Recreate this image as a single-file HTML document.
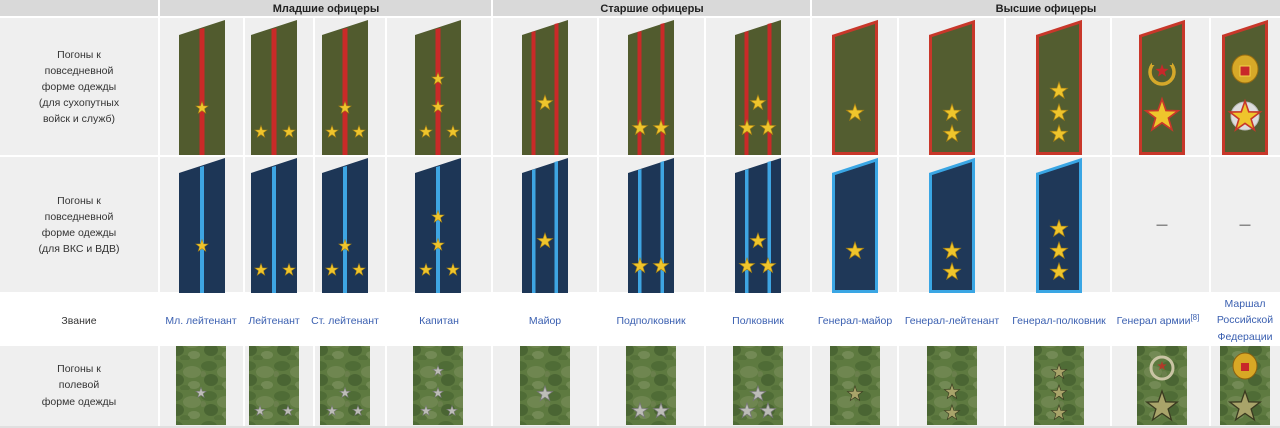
<!DOCTYPE html>
<html><head><meta charset="utf-8"><style>
html,body{margin:0;padding:0;background:#fff;}
svg{display:block;font-family:"Liberation Sans",Arial,sans-serif;}
</style></head><body>
<svg width="1280" height="428" viewBox="0 0 1280 428" xmlns="http://www.w3.org/2000/svg">
<defs>
<polygon id="st" points="0,-1 0.235,-0.324 0.951,-0.309 0.380,0.124 0.588,0.809 0,0.4 -0.588,0.809 -0.380,0.124 -0.951,-0.309 -0.235,-0.324"/>
<pattern id="camo" width="34" height="30" patternUnits="userSpaceOnUse">
<rect width="34" height="30" fill="#5e7a40"/>
<ellipse cx="8" cy="6" rx="8" ry="5" fill="#4f6c36"/>
<ellipse cx="25" cy="12" rx="9" ry="6" fill="#6f8650"/>
<ellipse cx="10" cy="20" rx="7" ry="6" fill="#4a6533"/>
<ellipse cx="27" cy="25" rx="6" ry="4" fill="#738a55"/>
<ellipse cx="2" cy="14" rx="3" ry="3" fill="#6a7f4c"/>
<ellipse cx="18" cy="28" rx="5" ry="3" fill="#55713a"/>
</pattern>
<g id="aJ"><polygon points="-23,35 23,20 23,155 -23,155" fill="#515b2e"/><polygon points="-2.5,29 2.5,28 2.5,155 -2.5,155" fill="#c92a28"/></g>
<g id="aS"><polygon points="-23,35 23,20 23,155 -23,155" fill="#515b2e"/><polygon points="-13.5,32 -9.5,31 -9.5,155 -13.5,155" fill="#c92a28"/><polygon points="9.5,24 13.5,23 13.5,155 9.5,155" fill="#c92a28"/></g>
<g id="aG"><polygon points="-21.5,36 21.5,22 21.5,153.5 -21.5,153.5" fill="#535d30" stroke="#c8372a" stroke-width="3"/></g>
<g id="bJ"><polygon points="-23,35 23,20 23,155 -23,155" fill="#1d3656"/><polygon points="-2,29 2,28 2,155 -2,155" fill="#3ea5e2"/></g>
<g id="bS"><polygon points="-23,35 23,20 23,155 -23,155" fill="#1d3656"/><polygon points="-13,32 -9.5,31 -9.5,155 -13,155" fill="#3ea5e2"/><polygon points="9.5,24 13,23 13,155 9.5,155" fill="#3ea5e2"/></g>
<g id="bG"><polygon points="-21.5,36 21.5,22 21.5,153.5 -21.5,153.5" fill="#1f3858" stroke="#3aa6e4" stroke-width="3"/></g>
<rect id="cm" x="-25" y="346" width="50" height="79" fill="url(#camo)"/>
</defs>
<rect x="0" y="0" width="1280" height="428" fill="#fff"/>
<rect x="0" y="0" width="158" height="16" fill="#d9d9d9"/>
<rect x="160" y="0" width="331" height="16" fill="#d9d9d9"/>
<rect x="493" y="0" width="317" height="16" fill="#d9d9d9"/>
<rect x="812" y="0" width="468" height="16" fill="#d9d9d9"/>
<g font-size="11" font-weight="bold" fill="#222" text-anchor="middle">
<text x="326" y="12">Младшие офицеры</text>
<text x="652" y="12">Старшие офицеры</text>
<text x="1046" y="12">Высшие офицеры</text>
</g>
<g fill="#efefef">
<rect x="0" y="18" width="158" height="137"/><rect x="0" y="157" width="158" height="135"/><rect x="0" y="346" width="158" height="82"/>
<rect x="160" y="18" width="83" height="137"/><rect x="245" y="18" width="68" height="137"/><rect x="315" y="18" width="70" height="137"/><rect x="387" y="18" width="104" height="137"/><rect x="493" y="18" width="104" height="137"/><rect x="599" y="18" width="105" height="137"/><rect x="706" y="18" width="104" height="137"/><rect x="812" y="18" width="85" height="137"/><rect x="899" y="18" width="105" height="137"/><rect x="1006" y="18" width="104" height="137"/><rect x="1112" y="18" width="97" height="137"/><rect x="1211" y="18" width="69" height="137"/>
<rect x="160" y="157" width="83" height="135"/><rect x="245" y="157" width="68" height="135"/><rect x="315" y="157" width="70" height="135"/><rect x="387" y="157" width="104" height="135"/><rect x="493" y="157" width="104" height="135"/><rect x="599" y="157" width="105" height="135"/><rect x="706" y="157" width="104" height="135"/><rect x="812" y="157" width="85" height="135"/><rect x="899" y="157" width="105" height="135"/><rect x="1006" y="157" width="104" height="135"/><rect x="1112" y="157" width="97" height="135"/><rect x="1211" y="157" width="69" height="135"/>
<rect x="160" y="346" width="83" height="82"/><rect x="245" y="346" width="68" height="82"/><rect x="315" y="346" width="70" height="82"/><rect x="387" y="346" width="104" height="82"/><rect x="493" y="346" width="104" height="82"/><rect x="599" y="346" width="105" height="82"/><rect x="706" y="346" width="104" height="82"/><rect x="812" y="346" width="85" height="82"/><rect x="899" y="346" width="105" height="82"/><rect x="1006" y="346" width="104" height="82"/><rect x="1112" y="346" width="97" height="82"/><rect x="1211" y="346" width="69" height="82"/>
</g>
<g font-size="10.5" fill="#333" text-anchor="middle">
<text x="79" y="58">Погоны к</text><text x="79" y="74">повседневной</text><text x="79" y="90">форме одежды</text><text x="79" y="106">(для сухопутных</text><text x="79" y="122">войск и служб)</text>
<text x="79" y="204">Погоны к</text><text x="79" y="220">повседневной</text><text x="79" y="236">форме одежды</text><text x="79" y="252">(для ВКС и ВДВ)</text>
<text x="79" y="324">Звание</text>
<text x="79" y="372">Погоны к</text><text x="79" y="388">полевой</text><text x="79" y="405">форме одежды</text>
</g>
<use href="#aJ" x="202"/><use href="#aJ" x="274"/><use href="#aJ" x="345"/><use href="#aJ" x="438"/>
<use href="#aS" x="545"/><use href="#aS" x="651"/><use href="#aS" x="758"/>
<use href="#aG" x="855"/><use href="#aG" x="952"/><use href="#aG" x="1059"/><use href="#aG" x="1162"/><use href="#aG" x="1245"/>
<g transform="translate(0,138)">
<use href="#bJ" x="202"/><use href="#bJ" x="274"/><use href="#bJ" x="345"/><use href="#bJ" x="438"/>
<use href="#bS" x="545"/><use href="#bS" x="651"/><use href="#bS" x="758"/>
<use href="#bG" x="855"/><use href="#bG" x="952"/><use href="#bG" x="1059"/>
</g>
<g fill="#efc52c" stroke="#a88214" stroke-width="0.08">
<g id="stars1">
<use href="#st" transform="translate(202,108) scale(6.5)"/>
<use href="#st" transform="translate(261,132) scale(6.5)"/><use href="#st" transform="translate(289,132) scale(6.5)"/>
<use href="#st" transform="translate(345,108) scale(6.5)"/><use href="#st" transform="translate(332,132) scale(6.5)"/><use href="#st" transform="translate(359,132) scale(6.5)"/>
<use href="#st" transform="translate(438,79) scale(6.5)"/><use href="#st" transform="translate(438,107) scale(6.5)"/><use href="#st" transform="translate(426,132) scale(6.5)"/><use href="#st" transform="translate(453,132) scale(6.5)"/>
<use href="#st" transform="translate(545,103) scale(8)"/>
<use href="#st" transform="translate(640,128) scale(8)"/><use href="#st" transform="translate(661,128) scale(8)"/>
<use href="#st" transform="translate(758,103) scale(8)"/><use href="#st" transform="translate(747,128) scale(8)"/><use href="#st" transform="translate(768,128) scale(8)"/>
<use href="#st" transform="translate(855,113) scale(9)"/>
<use href="#st" transform="translate(952,113) scale(9)"/><use href="#st" transform="translate(952,134) scale(9)"/>
<use href="#st" transform="translate(1059,91) scale(9)"/><use href="#st" transform="translate(1059,113) scale(9)"/><use href="#st" transform="translate(1059,134) scale(9)"/>
</g>
<use href="#stars1" transform="translate(0,138)"/>
<use href="#st" transform="translate(1162,116) scale(17)" stroke="#c8372a" stroke-width="0.1"/>
<circle cx="1245" cy="116" r="14" fill="#ddd" stroke="#bbb" stroke-width="1"/>
<use href="#st" transform="translate(1245,117) scale(16)" stroke="#c8372a" stroke-width="0.1"/>
</g>
<circle cx="1162" cy="72" r="12" fill="none" stroke="#d4a82a" stroke-width="3.5"/>
<rect x="1152" y="58" width="20" height="7" fill="#535d30"/>
<use href="#st" transform="translate(1162,71) scale(7)" fill="#c8282a"/>
<ellipse cx="1245" cy="69" rx="13" ry="14" fill="#d7a928" stroke="#9a6e10" stroke-width="1"/>
<rect x="1240" y="66" width="10" height="10" fill="#c8282a" stroke="#f4d24c" stroke-width="1"/>
<g font-size="11" fill="#222" text-anchor="middle"><text x="1162" y="228">—</text><text x="1245" y="228">—</text></g>
<g font-size="10.5" fill="#3a5fb0" text-anchor="middle">
<text x="201" y="324">Мл. лейтенант</text><text x="274" y="324">Лейтенант</text><text x="345" y="324">Ст. лейтенант</text><text x="439" y="324">Капитан</text>
<text x="545" y="324">Майор</text><text x="651" y="324">Подполковник</text><text x="758" y="324">Полковник</text>
<text x="855" y="324">Генерал-майор</text><text x="952" y="324">Генерал-лейтенант</text><text x="1059" y="324">Генерал-полковник</text><text x="1158" y="324">Генерал армии<tspan font-size="8" dy="-4">[8]</tspan></text>
<text x="1245" y="307">Маршал</text><text x="1245" y="323">Российской</text><text x="1245" y="340">Федерации</text>
</g>
<use href="#cm" x="201"/><use href="#cm" x="274"/><use href="#cm" x="345"/><use href="#cm" x="438"/>
<use href="#cm" x="545"/><use href="#cm" x="651"/><use href="#cm" x="758"/>
<use href="#cm" x="855"/><use href="#cm" x="952"/><use href="#cm" x="1059"/><use href="#cm" x="1162"/><use href="#cm" x="1245"/>
<g fill="#bdbdb8" stroke="#777" stroke-width="0.1">
<use href="#st" transform="translate(201,393) scale(5.5)"/>
<use href="#st" transform="translate(260,411) scale(5.5)"/><use href="#st" transform="translate(288,411) scale(5.5)"/>
<use href="#st" transform="translate(345,393) scale(5.5)"/><use href="#st" transform="translate(332,411) scale(5.5)"/><use href="#st" transform="translate(358,411) scale(5.5)"/>
<use href="#st" transform="translate(438,371) scale(5.5)"/><use href="#st" transform="translate(438,393) scale(5.5)"/><use href="#st" transform="translate(426,411) scale(5.5)"/><use href="#st" transform="translate(452,411) scale(5.5)"/>
<use href="#st" transform="translate(545,394) scale(8)"/>
<use href="#st" transform="translate(640,411) scale(8)"/><use href="#st" transform="translate(661,411) scale(8)"/>
<use href="#st" transform="translate(758,394) scale(8)"/><use href="#st" transform="translate(747,411) scale(8)"/><use href="#st" transform="translate(768,411) scale(8)"/>
</g>
<g fill="#a9a46a" stroke="#3a3a20" stroke-width="0.08">
<use href="#st" transform="translate(855,394) scale(8)"/>
<use href="#st" transform="translate(952,392) scale(8)"/><use href="#st" transform="translate(952,413) scale(8)"/>
<use href="#st" transform="translate(1059,372) scale(8)"/><use href="#st" transform="translate(1059,393) scale(8)"/><use href="#st" transform="translate(1059,413) scale(8)"/>
<use href="#st" transform="translate(1162,407) scale(16)"/>
<use href="#st" transform="translate(1245,407) scale(16)"/>
</g>
<circle cx="1162" cy="368" r="11" fill="none" stroke="#c9c4a4" stroke-width="3"/>
<use href="#st" transform="translate(1162,366) scale(5)" fill="#b03a2a"/>
<ellipse cx="1245" cy="366" rx="12" ry="13" fill="#d8a825" stroke="#8a6010" stroke-width="1"/>
<rect x="1241" y="363" width="8" height="8" fill="#c8282a"/>
<rect x="0" y="426" width="1280" height="2" fill="#e0e0e0"/>
</svg>
</body></html>
